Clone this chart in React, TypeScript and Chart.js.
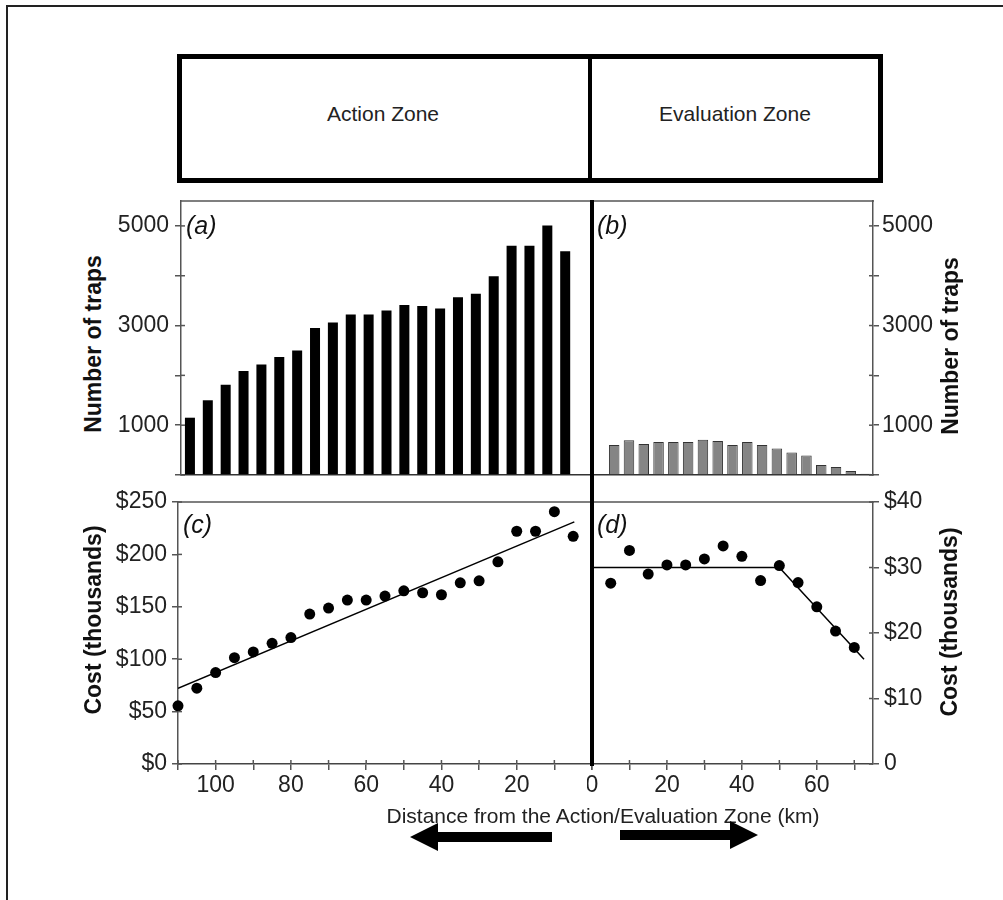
import React, { useEffect, useRef } from "react";
import { Chart, registerables } from "chart.js";

Chart.register(...registerables);

const FONT = '"Liberation Sans", Arial, Helvetica, sans-serif';

// ---------- data ----------
// (a) Action Zone: number of traps per 5-km band (far -> near); last slot empty
const actionBins = ["110", "105", "100", "95", "90", "85", "80", "75", "70", "65", "60", "55", "50", "45", "40", "35", "30", "25", "20", "15", "10", "5", ""];
const actionTraps = [1150, 1500, 1810, 2090, 2220, 2370, 2500, 2950, 3060, 3220, 3220, 3300, 3410, 3390, 3340, 3570, 3640, 3990, 4600, 4600, 5010, 4490, null];

// (b) Evaluation Zone: number of traps per band (near -> far); first slot empty
const evalBins = ["", "4", "8", "12", "16", "20", "24", "28", "32", "36", "40", "44", "48", "52", "56", "60", "64", "68", "72"];
const evalTraps = [null, 600, 700, 620, 660, 660, 660, 710, 680, 600, 660, 600, 530, 450, 390, 200, 160, 80, 27];

// (c) Action Zone cost (thousands $) vs distance (km)
const actionDist = [110, 105, 100, 95, 90, 85, 80, 75, 70, 65, 60, 55, 50, 45, 40, 35, 30, 25, 20, 15, 10, 5];
const actionCost = [55.5, 72.3, 87.2, 101.5, 106.9, 115.2, 120.6, 143.1, 148.8, 156.4, 156.4, 160.2, 165.3, 163.4, 161.5, 172.9, 174.8, 192.9, 222.1, 222.1, 240.8, 217.3];
const actionFitX = [110, 4.7];
const actionFitY = [72.3, 231];

// (d) Evaluation Zone cost (thousands $) vs distance (km)
const evalDist = [5, 10, 15, 20, 25, 30, 35, 40, 45, 50, 55, 60, 65, 70];
const evalCost = [27.6, 32.6, 29.0, 30.4, 30.4, 31.3, 33.3, 31.7, 28.0, 30.3, 27.7, 24.0, 20.3, 17.8];
const evalFitX = [0, 50, 72.6];
const evalFitY = [30, 30, 16];

// tick positions and labelled ticks
const trapTicks = [0, 1000, 2000, 3000, 4000, 5000];
const trapLabelTicks = [1000, 3000, 5000];
const actionCostTicks = [0, 50, 100, 150, 200, 250];
const evalCostTicks = [0, 10, 20, 30, 40];
const actionDistTicks = [0, 10, 20, 30, 40, 50, 60, 70, 80, 90, 100, 110];
const actionDistLabels = [100, 80, 60, 40, 20];
const evalDistTicks = [0, 10, 20, 30, 40, 50, 60, 70];
const evalDistLabels = [0, 20, 40, 60];

// ---------- helpers ----------
const toPts = (xs: number[], ys: number[]) => xs.map((x, i) => ({ x, y: ys[i] }));
const setTicks = (vals: number[]) => (s: any) => { s.ticks = vals.map((v) => ({ value: v })); };
const fixFit = (dim: "width" | "height", size: number) => (s: any) => {
  s[dim] = size;
  s.paddingTop = 0; s.paddingBottom = 0; s.paddingLeft = 0; s.paddingRight = 0;
};

const AXIS_COLOR = "#555";

const frame = {
  id: "frame",
  afterDraw(chart: any) {
    const { ctx, chartArea: a, scales } = chart;
    ctx.save();
    ctx.strokeStyle = AXIS_COLOR;
    ctx.lineWidth = 1.5;
    // top edge of the plot
    ctx.beginPath();
    ctx.moveTo(a.left - 1, a.top);
    ctx.lineTo(a.right + 1, a.top);
    ctx.stroke();
    // inner half of the tick marks (ticks cross the axis)
    Object.values(scales).forEach((s: any) => {
      if (s.options.grid && s.options.grid.display === false) return;
      s.ticks.forEach((t: any) => {
        const p = s.getPixelForValue(t.value);
        ctx.beginPath();
        if (s.isHorizontal()) {
          ctx.moveTo(p, a.bottom);
          ctx.lineTo(p, a.bottom - 4);
        } else if (s.position === "left") {
          ctx.moveTo(a.left, p);
          ctx.lineTo(a.left + 4, p);
        } else {
          ctx.moveTo(a.right, p);
          ctx.lineTo(a.right - 4, p);
        }
        ctx.stroke();
      });
    });
    ctx.restore();
  },
};

const tickFont = { family: FONT, size: 23 };
const axisGrid = { drawOnChartArea: false, tickLength: 6, color: AXIS_COLOR, lineWidth: 1.5 };
const axisBorder = { display: true, color: AXIS_COLOR, width: 1.5 };
const baseOpts = {
  animation: false as const,
  responsive: false,
  devicePixelRatio: 1,
  plugins: { legend: { display: false }, tooltip: { enabled: false } },
};

function ChartCanvas({ left, top, width, height, config }: any) {
  const ref = useRef<HTMLCanvasElement | null>(null);
  useEffect(() => {
    if (!ref.current) return;
    const chart = new Chart(ref.current, config());
    return () => chart.destroy();
  }, []);
  return (
    <canvas
      ref={ref}
      width={width}
      height={height}
      style={{ position: "absolute", left, top, width, height, display: "block" }}
    />
  );
}

const cfgA = () => ({
  type: "bar",
  data: {
    labels: actionBins,
    datasets: [{ data: actionTraps, backgroundColor: "#000", barPercentage: 0.56, categoryPercentage: 1 }],
  },
  options: {
    ...baseOpts,
    layout: { padding: { top: 11, bottom: 15, right: 5, left: 0 }, autoPadding: false },
    scales: {
      x: {
        grid: { display: false },
        ticks: { display: false },
        border: { display: true, color: "#333", width: 1.5 },
        afterFit: fixFit("height", 0),
      },
      y: {
        position: "left",
        min: 0,
        max: 5500,
        afterBuildTicks: setTicks(trapTicks),
        afterFit: fixFit("width", 70),
        ticks: {
          autoSkip: false, padding: 6, color: "#222", font: tickFont,
          callback: (v: number) => (trapLabelTicks.includes(v) ? String(v) : ""),
        },
        grid: axisGrid,
        border: axisBorder,
      },
    },
  },
  plugins: [frame],
});

const cfgB = () => ({
  type: "bar",
  data: {
    labels: evalBins,
    datasets: [{ data: evalTraps, backgroundColor: "#858585", borderColor: "#333", borderWidth: 1, barPercentage: 0.71, categoryPercentage: 1 }],
  },
  options: {
    ...baseOpts,
    layout: { padding: { top: 11, bottom: 15, right: 0, left: 5 }, autoPadding: false },
    scales: {
      x: {
        grid: { display: false },
        ticks: { display: false },
        border: { display: true, color: "#333", width: 1.5 },
        afterFit: fixFit("height", 0),
      },
      y: {
        position: "right",
        min: 0,
        max: 5500,
        afterBuildTicks: setTicks(trapTicks),
        afterFit: fixFit("width", 70),
        ticks: {
          autoSkip: false, padding: 3, color: "#222", font: tickFont,
          callback: (v: number) => (trapLabelTicks.includes(v) ? String(v) : ""),
        },
        grid: axisGrid,
        border: axisBorder,
      },
    },
  },
  plugins: [frame],
});

const cfgC = () => ({
  type: "scatter",
  data: {
    datasets: [
      { data: toPts(actionDist, actionCost), backgroundColor: "#000", pointRadius: 5.5, pointBorderWidth: 0, clip: false },
      { type: "line", data: toPts(actionFitX, actionFitY), borderColor: "#000", borderWidth: 1.5, pointRadius: 0, showLine: true, fill: false },
    ],
  },
  options: {
    ...baseOpts,
    layout: { padding: { top: 14, bottom: 0, right: 5, left: 0 }, autoPadding: false },
    scales: {
      x: {
        type: "linear",
        min: 0,
        max: 110,
        reverse: true,
        afterBuildTicks: setTicks(actionDistTicks),
        afterFit: fixFit("height", 40),
        ticks: {
          autoSkip: false, maxRotation: 0, padding: 2, color: "#222", font: tickFont,
          callback: (v: number) => (actionDistLabels.includes(v) ? String(v) : ""),
        },
        grid: axisGrid,
        border: { display: true, color: "#444", width: 1.5 },
      },
      y: {
        min: 0,
        max: 250,
        afterBuildTicks: setTicks(actionCostTicks),
        afterFit: fixFit("width", 70),
        ticks: {
          autoSkip: false, padding: 5, color: "#222", font: tickFont,
          callback: (v: number) => "$" + v,
        },
        grid: axisGrid,
        border: axisBorder,
      },
    },
  },
  plugins: [frame],
});

const cfgD = () => ({
  type: "scatter",
  data: {
    datasets: [
      { data: toPts(evalDist, evalCost), backgroundColor: "#000", pointRadius: 5.5, pointBorderWidth: 0, clip: false },
      { type: "line", data: toPts(evalFitX, evalFitY), borderColor: "#000", borderWidth: 1.5, pointRadius: 0, showLine: true, fill: false },
    ],
  },
  options: {
    ...baseOpts,
    layout: { padding: { top: 14, bottom: 0, right: 0, left: 5 }, autoPadding: false },
    scales: {
      x: {
        type: "linear",
        min: 0,
        max: 75,
        afterBuildTicks: setTicks(evalDistTicks),
        afterFit: fixFit("height", 40),
        ticks: {
          autoSkip: false, maxRotation: 0, padding: 2, color: "#222", font: tickFont,
          callback: (v: number) => (evalDistLabels.includes(v) ? String(v) : ""),
        },
        grid: axisGrid,
        border: { display: true, color: "#444", width: 1.5 },
      },
      y: {
        position: "right",
        min: 0,
        max: 40,
        afterBuildTicks: setTicks(evalCostTicks),
        afterFit: fixFit("width", 70),
        ticks: {
          autoSkip: false, padding: 5, color: "#222", font: tickFont,
          callback: (v: number) => (v === 0 ? "0" : "$" + v),
        },
        grid: axisGrid,
        border: axisBorder,
      },
    },
  },
  plugins: [frame],
});

const abs = (s: any): React.CSSProperties => ({ position: "absolute", ...s });

function VTitle({ cx, cy, text }: { cx: number; cy: number; text: string }) {
  return (
    <div
      style={abs({
        left: cx, top: cy, transform: "translate(-50%, -50%) rotate(-90deg)",
        whiteSpace: "nowrap", fontFamily: FONT, fontWeight: "bold", fontSize: 23, lineHeight: 1, color: "#111",
      })}
    >
      {text}
    </div>
  );
}

function PanelLabel({ x, y, text }: { x: number; y: number; text: string }) {
  return (
    <div style={abs({ left: x, top: y, fontFamily: FONT, fontStyle: "italic", fontSize: 25, lineHeight: 1, color: "#111" })}>
      {text}
    </div>
  );
}

function CenterText({ x, y, size, text }: { x: number; y: number; size: number; text: string }) {
  return (
    <div style={abs({ left: x, top: y, transform: "translate(-50%, -50%)", whiteSpace: "nowrap", fontFamily: FONT, fontSize: size, lineHeight: 1, color: "#222" })}>
      {text}
    </div>
  );
}

export default function App() {
  return (
    <div style={abs({ left: 0, top: 0, width: 1003, height: 900, background: "#fff", overflow: "hidden" })}>
      {/* outer frame (top and left edges) */}
      <div style={abs({ left: 6, top: 5, width: 1010, height: 910, borderTop: "2px solid #222", borderLeft: "2px solid #222" })} />

      {/* zone box */}
      <div style={abs({ left: 177, top: 54, width: 706, height: 129, border: "5px solid #000", boxSizing: "border-box" })} />
      <div style={abs({ left: 588, top: 54, width: 4, height: 129, background: "#000" })} />
      <CenterText x={383} y={113} size={21} text="Action Zone" />
      <CenterText x={735} y={113} size={21} text="Evaluation Zone" />

      <ChartCanvas left={111} top={190} width={486} height={300} config={cfgA} />
      <ChartCanvas left={587} top={190} width={356} height={300} config={cfgB} />
      <ChartCanvas left={108} top={488} width={489} height={316} config={cfgC} />
      <ChartCanvas left={587} top={488} width={356} height={316} config={cfgD} />

      {/* thick zone boundary */}
      <div style={abs({ left: 590, top: 200, width: 4, height: 566, background: "#000" })} />

      <VTitle cx={93} cy={344} text="Number of traps" />
      <VTitle cx={950} cy={346} text="Number of traps" />
      <VTitle cx={93} cy={620} text="Cost (thousands)" />
      <VTitle cx={949} cy={622} text="Cost (thousands)" />

      <PanelLabel x={186} y={213} text="(a)" />
      <PanelLabel x={597} y={213} text="(b)" />
      <PanelLabel x={183} y={512} text="(c)" />
      <PanelLabel x={597} y={512} text="(d)" />

      <CenterText x={603} y={815} size={21} text="Distance from the Action/Evaluation Zone (km)" />

      <svg width={1003} height={900} style={abs({ left: 0, top: 0, pointerEvents: "none" })}>
        <polygon points="410,837 438,823 438,832 552,832 552,842 438,842 438,851" fill="#000" />
        <polygon points="758,835 730,821 730,830 620,830 620,840 730,840 730,849" fill="#000" />
      </svg>
    </div>
  );
}
